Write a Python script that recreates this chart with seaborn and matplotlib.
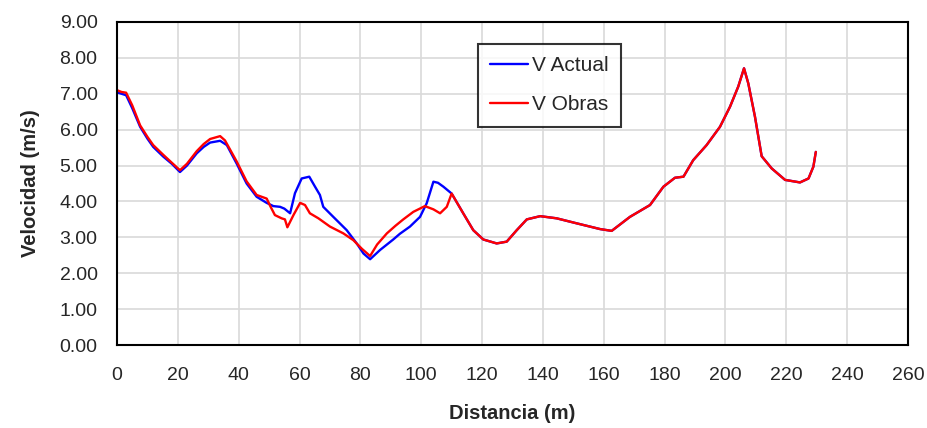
import matplotlib
matplotlib.use("Agg")
import matplotlib.pyplot as plt
import seaborn as sns
import pandas as pd
import numpy as np

# ---- data ----
dist_actual = [0, 1.5, 3, 5, 7.6, 10, 11.9, 15.2, 18, 20.7, 23, 26.2, 28.5, 30.6, 33.9, 36.1,
               39.3, 42.6, 45.9, 49.2, 51.4, 53.6, 55, 56.9, 58.5, 60.7, 63.2, 65.1, 66.7, 67.8,
               71.1, 75.5, 78.8, 81.0, 83.2, 86.5, 90.8, 93, 96.3, 99.6, 101.8, 104.0, 105.5,
               107.3, 110.0, 113.8, 117.1, 120.4, 124.8, 128.1, 131.4, 134.7, 139.1, 144.5,
               151.1, 158.8, 162.6, 168.6, 175.2, 179.6, 183.4, 186.2, 189.4, 193.8, 198.2,
               201.5, 204.2, 206.1, 207.5, 209.7, 211.9, 215.2, 219.6, 224.5, 227.3, 228.9, 229.7]
vel_actual = [7.04, 7.0, 6.96, 6.6, 6.08, 5.75, 5.52, 5.25, 5.05, 4.82, 5.0, 5.34, 5.52, 5.64,
              5.69, 5.57, 5.06, 4.50, 4.13, 3.96, 3.87, 3.85, 3.80, 3.67, 4.23, 4.64, 4.69, 4.41,
              4.18, 3.85, 3.57, 3.20, 2.83, 2.55, 2.39, 2.65, 2.94, 3.10, 3.30, 3.57, 3.95, 4.55,
              4.52, 4.41, 4.22, 3.67, 3.20, 2.94, 2.83, 2.88, 3.20, 3.50, 3.59, 3.53, 3.39, 3.23,
              3.18, 3.57, 3.90, 4.41, 4.66, 4.69, 5.15, 5.57, 6.08, 6.64, 7.20, 7.71, 7.29, 6.36,
              5.26, 4.92, 4.60, 4.53, 4.64, 4.97, 5.38]

dist_obras = [0, 1.5, 3, 5, 7.6, 10, 11.9, 15.2, 18, 20.7, 23, 26.2, 28.5, 30.6, 33.9, 35.5,
              39.3, 42.6, 45.9, 49.2, 50.5, 51.9, 54.1, 55.2, 56.0, 58.0, 60.2, 61.8, 63.4, 66.2,
              70.0, 74.4, 77.7, 80.5, 83.2, 85.5, 88.7, 91.5, 94.1, 97.4, 101.2, 104.0, 106.2,
              108.4, 110.0, 113.8, 117.1, 120.4, 124.8, 128.1, 131.4, 134.7, 139.1, 144.5,
              151.1, 158.8, 162.6, 168.6, 175.2, 179.6, 183.4, 186.2, 189.4, 193.8, 198.2,
              201.5, 204.2, 206.1, 207.5, 209.7, 211.9, 215.2, 219.6, 224.5, 227.3, 228.9, 229.7]
vel_obras = [7.1, 7.05, 7.03, 6.68, 6.12, 5.8, 5.57, 5.30, 5.08, 4.87, 5.05, 5.40, 5.60, 5.74,
             5.82, 5.70, 5.12, 4.56, 4.18, 4.08, 3.85, 3.62, 3.53, 3.50, 3.28, 3.62, 3.96, 3.90,
             3.67, 3.53, 3.30, 3.11, 2.92, 2.68, 2.48, 2.80, 3.11, 3.32, 3.50, 3.71, 3.87, 3.78,
             3.67, 3.85, 4.22, 3.67, 3.20, 2.94, 2.83, 2.88, 3.20, 3.50, 3.59, 3.53, 3.39, 3.23,
             3.18, 3.57, 3.90, 4.41, 4.66, 4.69, 5.15, 5.57, 6.08, 6.64, 7.20, 7.71, 7.29, 6.36,
             5.26, 4.92, 4.60, 4.53, 4.64, 4.97, 5.38]

series_names = ["V Actual", "V Obras"]
series_colors = ["#0000FF", "#FF0000"]
x_ticks = list(range(0, 261, 20))
y_ticks = [0, 1, 2, 3, 4, 5, 6, 7, 8, 9]

df = pd.concat([
    pd.DataFrame({"Distancia": dist_actual, "Velocidad": vel_actual, "Serie": series_names[0]}),
    pd.DataFrame({"Distancia": dist_obras, "Velocidad": vel_obras, "Serie": series_names[1]}),
], ignore_index=True)

sns.set_theme(style="white")
plt.rcParams["font.family"] = ["Liberation Sans", "DejaVu Sans"]

fig = plt.figure(figsize=(9.27, 4.28), dpi=100)
ax = fig.add_axes([117 / 927, 1 - 345 / 428, 791 / 927, 323 / 428])

sns.lineplot(data=df, x="Distancia", y="Velocidad", hue="Serie", sort=False,
             palette=dict(zip(series_names, series_colors)), linewidth=1.7,
             estimator=None, ax=ax)

ax.set_xlim(0, 260)
ax.set_ylim(0, 9)
ax.set_xticks(x_ticks)
ax.set_yticks(y_ticks)
ax.set_yticklabels([f"{v:.2f}" for v in y_ticks])
ax.grid(True, color="#D9D9D9", linewidth=1.2)
ax.set_axisbelow(True)
for s in ax.spines.values():
    s.set_color("black")
    s.set_linewidth(1.5)
ax.tick_params(axis="both", labelsize=14, colors="#262626", length=0)
ax.tick_params(axis="y", pad=14)
ax.tick_params(axis="x", pad=16)
ax.set_xlabel("Distancia (m)", fontsize=14.5, fontweight="bold", labelpad=14)
ax.set_ylabel("Velocidad (m/s)", fontsize=14.5, fontweight="bold", labelpad=14)

handles, labels = ax.get_legend_handles_labels()
leg = ax.legend(handles, labels, loc="upper left", bbox_to_anchor=(0.456, 0.932),
                borderaxespad=0, frameon=True, fancybox=False, fontsize=15,
                handlelength=1.8, handletextpad=0.2, labelspacing=0.95,
                borderpad=0.6, title=None)
leg.get_frame().set_edgecolor("black")
leg.get_frame().set_linewidth(1.5)

fig.savefig("out.png", dpi=100)
